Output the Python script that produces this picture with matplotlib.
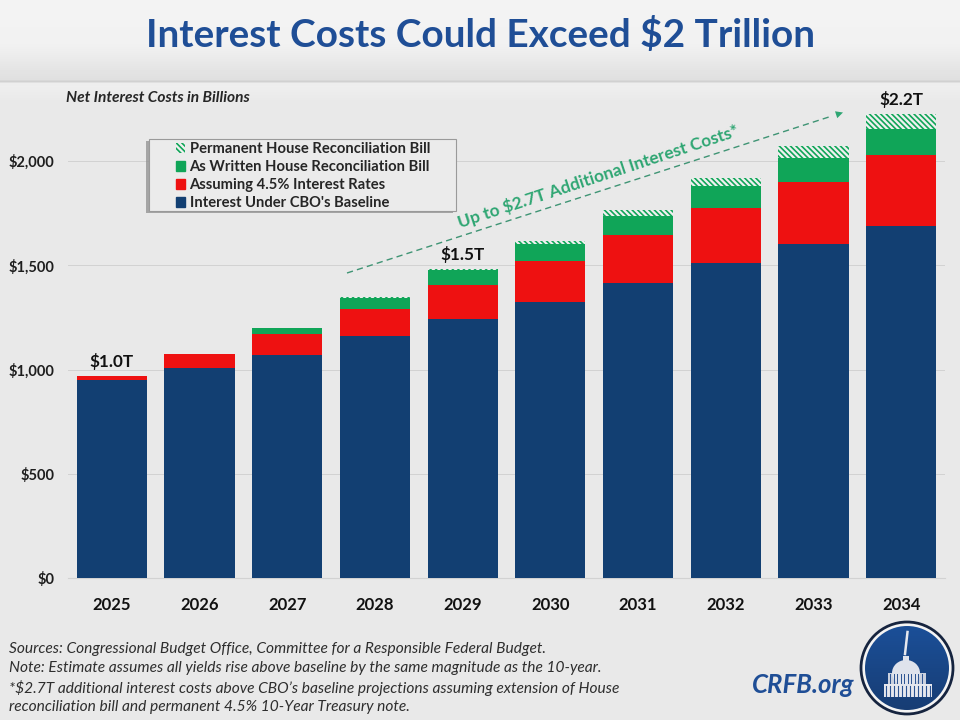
import numpy as np
import matplotlib
matplotlib.use("Agg")
import matplotlib.pyplot as plt
from matplotlib.lines import Line2D
from matplotlib.patches import Circle, Ellipse, Patch, Rectangle

years = [2025, 2026, 2027, 2028, 2029, 2030, 2031, 2032, 2033, 2034]
baseline = [950, 1007, 1070, 1161, 1242, 1324, 1415, 1511, 1602, 1688]
rates_45 = [19, 67, 100, 129, 163, 196, 230, 264, 297, 341]
as_written = [0, 0, 29, 52, 72, 82, 91, 105, 115, 124]
permanent = [0, 0, 0, 4, 5, 14, 29, 38, 58, 72]

y_ticks = [0, 500, 1000, 1500, 2000]
y_labels = ["$0", "$500", "$1,000", "$1,500", "$2,000"]
callouts = {2025: "$1.0T", 2029: "$1.5T", 2034: "$2.2T"}

NAVY = "#123f72"
RED = "#ee1111"
GREEN = "#10a558"
TEAL = "#2fa673"
BLUE = "#1f4e96"
HATCH = "\\\\\\\\\\\\"

plt.rcParams["font.family"] = ["Lato", "DejaVu Sans"]
plt.rcParams["hatch.linewidth"] = 1.2

fig = plt.figure(figsize=(9.6, 7.2), dpi=100, facecolor="#e9e9e9")

# background layer in pixel coordinates
bg = fig.add_axes([0, 0, 1, 1], zorder=0)
bg.axis("off")
rows = np.arange(0, 100)
band = np.interp(rows, [0, 45, 79, 81, 83, 86, 99],
                 [0.955, 0.945, 0.875, 0.82, 0.93, 0.935, 0.915])[:, None]
bg.imshow(band, extent=(0, 960, 100, 0), cmap="gray", vmin=0, vmax=1, aspect="auto")
bg.set_xlim(0, 960)
bg.set_ylim(720, 0)
bg.text(480, 35, "Interest Costs Could Exceed $2 Trillion", color=BLUE, fontsize=27.9,
        fontweight="bold", ha="center", va="center")
bg.text(66, 98.5, "Net Interest Costs in Billions", color="#262626", fontsize=11.2,
        fontweight="bold", style="italic", ha="left", va="center")

footer = [
    "Sources: Congressional Budget Office, Committee for a Responsible Federal Budget.",
    "Note: Estimate assumes all yields rise above baseline by the same magnitude as the 10-year.",
    "*$2.7T additional interest costs above CBO\u2019s baseline projections assuming extension of House",
    "reconciliation bill and permanent 4.5% 10-Year Treasury note.",
]
for i, line in enumerate(footer):
    bg.text(9, 649 + i * 19.3, line, color="#2e2e2e", fontsize=11.2, style="italic",
            ha="left", va="center")

# main chart
ax = fig.add_axes([68 / 960, 1 - 578 / 720, (945 - 68) / 960, (578 - 90) / 720], zorder=1)
ax.patch.set_alpha(0)
x = np.arange(len(years))
base = np.array(baseline)
ax.bar(x, baseline, width=0.8, color=NAVY, zorder=3)
ax.bar(x, rates_45, width=0.8, bottom=base, color=RED, zorder=3)
base = base + np.array(rates_45)
ax.bar(x, as_written, width=0.8, bottom=base, color=GREEN, zorder=3)
base = base + np.array(as_written)
ax.bar(x, permanent, width=0.8, bottom=base, facecolor="#f0f0f0", edgecolor=GREEN,
       hatch=HATCH, linewidth=0, zorder=3)
tops = base + np.array(permanent)

ax.set_xlim(-0.5, 9.5)
ax.set_ylim(0, 488 / 0.2085)
ax.set_xticks(x)
ax.set_xticklabels(years, fontsize=12, fontweight="bold", color="#111111")
ax.set_yticks(y_ticks)
ax.set_yticklabels(y_labels, fontsize=10.5, fontweight="bold", color="#1e1e1e")
ax.tick_params(length=0)
ax.tick_params(axis="x", pad=14)
ax.tick_params(axis="y", pad=10)
ax.grid(axis="y", color="#d2d2d2", lw=0.7, zorder=0)
for side in ax.spines:
    ax.spines[side].set_visible(False)
ax.spines["bottom"].set_visible(True)
ax.spines["bottom"].set_color("#d2d2d2")

for i, yr in enumerate(years):
    if yr in callouts:
        ax.text(i, tops[i] + 28, callouts[yr], ha="center", va="bottom", fontsize=12.3,
                fontweight="bold", color="#111111", zorder=5)

# overlay layer for legend, arrow and logo
top = fig.add_axes([0, 0, 1, 1], zorder=2)
top.patch.set_alpha(0)
top.axis("off")

# circular logo background goes first, imshow resets the limits
grad = np.linspace(0.0, 1.0, 64)[:, None]
disc = top.imshow(grad, extent=(865, 949, 710, 626), aspect="auto",
                  cmap=matplotlib.colors.LinearSegmentedColormap.from_list("b", ["#1b4f98", "#173d74"]))
top.set_xlim(0, 960)
top.set_ylim(720, 0)
top.add_patch(Circle((907, 668), 46, facecolor="#f4f4f4", edgecolor="#16243f", lw=2, zorder=0.5))
disc.set_zorder(1)
disc.set_clip_path(Circle((907, 668), 42, transform=top.transData))

# legend box with its shadow on the left and bottom
top.add_patch(Rectangle((146, 141), 307, 72, facecolor="#8f8f8f", edgecolor="none", alpha=0.75, zorder=2))
top.add_patch(Rectangle((149, 139), 307, 72, facecolor="#ebebeb", edgecolor="#9a9a9a", lw=0.8, zorder=2.1))
handles = [
    Patch(facecolor="#f0f0f0", edgecolor=GREEN, hatch=HATCH, linewidth=0,
          label="Permanent House Reconciliation Bill"),
    Patch(color=GREEN, label="As Written House Reconciliation Bill"),
    Patch(color=RED, label="Assuming 4.5% Interest Rates"),
    Patch(color=NAVY, label="Interest Under CBO's Baseline"),
]
leg = top.legend(handles=handles, loc="upper left", bbox_to_anchor=(176, 142),
                 bbox_transform=top.transData, prop={"size": 10.6, "weight": "bold"},
                 handlelength=0.62, handleheight=0.62, handletextpad=0.3, labelspacing=0.28,
                 borderpad=0, borderaxespad=0, frameon=False, labelcolor="#262626")
leg.set_zorder(3)

top.add_line(Line2D([347, 832], [273, 116], color="#3f9474", lw=1.0, ls=(0, (4.5, 3)), zorder=3))
top.annotate("", xy=(843, 112.5), xytext=(830, 116.7), zorder=3,
             arrowprops=dict(arrowstyle="-|>", color=TEAL, lw=0, mutation_scale=13, shrinkA=0, shrinkB=0))
top.text(598.5, 177, "Up to $2.7T Additional Interest Costs*", color=TEAL, fontsize=12.4,
         fontweight="bold", rotation=18.3, rotation_mode="anchor", ha="center", va="center", zorder=3)

top.text(803, 685, "CRFB.org", color=BLUE, fontsize=18.5, fontweight="bold", style="italic",
         ha="center", va="center", zorder=3)

# capitol
top.add_patch(Rectangle((884, 684), 48, 13, color="#e6e8ee", lw=0, zorder=3))
top.add_patch(Rectangle((888, 673), 38, 11, color="#c9d0de", lw=0, zorder=3))
top.add_patch(Ellipse((906, 673), 28, 26, color="#dfe3ec", lw=0, zorder=3))
top.add_patch(Rectangle((903, 656), 6, 6, color="#dfe3ec", lw=0, zorder=3))
for cx in np.arange(886, 932, 4):
    top.add_line(Line2D([cx, cx], [686, 696], color="#2a5291", lw=0.8, zorder=3.1))
for cx in np.arange(890, 925, 3.5):
    top.add_line(Line2D([cx, cx], [674, 683], color="#2a5291", lw=0.7, zorder=3.1))
top.add_line(Line2D([907.5, 905], [632, 654], color="#e6e8ee", lw=1.8, zorder=3))

fig.savefig("out.png", dpi=100, facecolor=fig.get_facecolor())
